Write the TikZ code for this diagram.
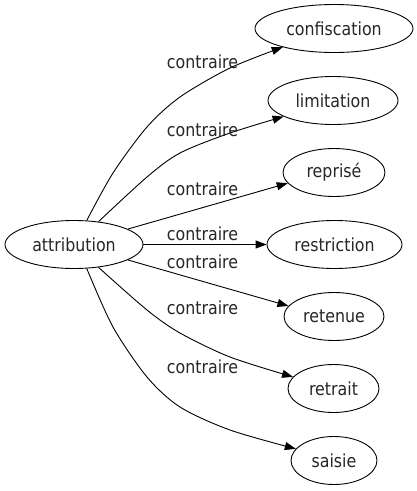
\documentclass[tikz,border=0pt]{standalone}
\usepackage{fontspec}
\setmainfont{DejaVu Sans}[FakeStretch=0.88]
\usetikzlibrary{arrows.meta,shapes.geometric}
\begin{document}
\begin{tikzpicture}[x=1pt,y=-1pt,
  every node/.style={font=\fontsize{18}{20}\selectfont, text=black!85},
  term/.style={draw=black, ellipse, line width=0.9pt, inner sep=0pt, minimum height=48pt},
  lbl/.style={inner sep=0pt},
  link/.style={line width=0.9pt, -{Triangle[length=11pt,width=8pt]}}]
\useasboundingbox (0,0) rectangle (417,491);
% nodes
\node[term, minimum width=138pt] (attr)    at (74,244.5)   {attribution};
\node[term, minimum width=158pt] (conf)    at (334,28.5)   {confiscation};
\node[term, minimum width=130pt] (limit)   at (333,100.5)  {limitation};
\node[term, minimum width=102pt] (repr)    at (334,172.5)  {reprisé};
\node[term, minimum width=135pt] (restr)   at (334.5,244.5){restriction};
\node[term, minimum width=100pt] (reten)   at (334,316.5)  {retenue};
\node[term, minimum width=91pt]  (retrait) at (333.5,388.5){retrait};
\node[term, minimum width=86pt]  (saisie)  at (334,460.5)  {saisie};
% edges
\draw[link] plot[smooth] coordinates {(attr.62) (113,173) (147,127) (180,97) (230,68) (conf.200)};
\draw[link] plot[smooth] coordinates {(attr.43) (147,177) (180,153) (230,133) (limit.198)};
\draw[link] (attr.16) -- (repr.193);
\draw[link] (attr.0) -- (restr.180);
\draw[link] (attr.-16) -- (reten.167);
\draw[link] plot[smooth] coordinates {(attr.-43) (147,310) (180,333) (230,357) (retrait.164)};
\draw[link] plot[smooth] coordinates {(attr.-62) (113,327) (147,377) (180,407) (230,430) (saisie.163)};
% labels
\node[lbl] (l1) at (202.5,61.7)  {contraire};
\node[lbl] (l2) at (202.5,130)   {contraire};
\node[lbl] (l3) at (202.5,189)   {contraire};
\node[lbl] (l4) at (202.5,233.5) {contraire};
\node[lbl] (l5) at (202.5,261.5) {contraire};
\node[lbl] (l6) at (202.5,307.5) {contraire};
\node[lbl] (l7) at (202.5,367)   {contraire};
\end{tikzpicture}
\end{document}
